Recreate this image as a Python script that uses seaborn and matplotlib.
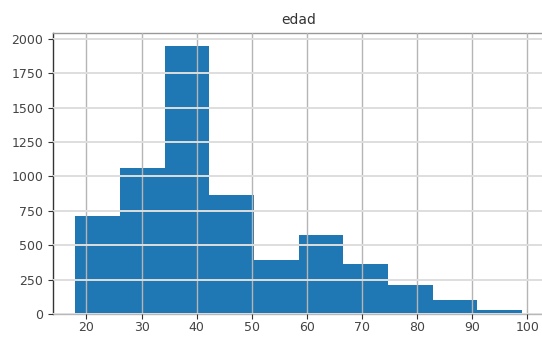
import matplotlib
matplotlib.use("Agg")
import matplotlib.pyplot as plt
import seaborn as sns
import pandas as pd
import numpy as np

# Data
bin_edges = [18, 26.1, 34.2, 42.3, 50.4, 58.5, 66.6, 74.7, 82.8, 90.9, 99]
counts = [713, 1060, 1947, 867, 395, 578, 361, 212, 104, 31]
title = "edad"
x_ticks = [20, 30, 40, 50, 60, 70, 80, 90, 100]
y_ticks = [0, 250, 500, 750, 1000, 1250, 1500, 1750, 2000]

centers = [(a + b) / 2 for a, b in zip(bin_edges[:-1], bin_edges[1:])]
df = pd.DataFrame({"edad": centers, "n": counts})

sns.set_style("white")
plt.rcParams["font.family"] = ["DejaVu Sans"]

fig = plt.figure(figsize=(5.42, 3.37), dpi=100)
ax = fig.add_axes([0.098, 0.068, 0.906, 0.835])

sns.histplot(data=df, x="edad", weights="n", bins=bin_edges, ax=ax,
             color="#1f77b4", alpha=1, edgecolor="none", linewidth=0)

ax.set_xlim(13.95, 103.05)
ax.set_ylim(0, 2044)
ax.set_xticks(x_ticks)
ax.set_yticks(y_ticks)
ax.set_xlabel("")
ax.set_ylabel("")
ax.set_title(title, fontsize=10, color="#333333", pad=6)

ax.set_axisbelow(False)
ax.grid(True, axis="x", color="#b5b5b5", linewidth=1.0)
ax.grid(True, axis="y", color="#dedede", linewidth=1.4)

ax.tick_params(axis="both", labelsize=9, colors="#333333", length=3.5, width=0.8,
               bottom=True, left=True)
ax.tick_params(axis="x", pad=1.5)
for lab in ax.get_xticklabels() + ax.get_yticklabels():
    lab.set_color("#444444")

ax.spines["left"].set_color("#333333")
ax.spines["top"].set_color("#999999")
ax.spines["bottom"].set_color("#b8b8b8")
ax.spines["right"].set_visible(False)
for s in ax.spines.values():
    s.set_linewidth(1.0)

fig.savefig("out.png", dpi=100)
